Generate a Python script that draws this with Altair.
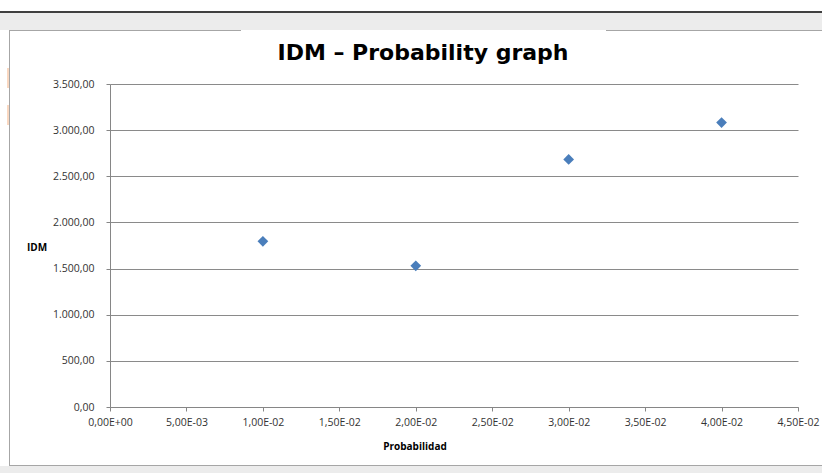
import altair as alt
import pandas as pd

# ---- data ----
probabilidad = [0.01, 0.02, 0.03, 0.04]
idm = [1795, 1530, 2683, 3082]

x_ticks = [0.0, 0.005, 0.01, 0.015, 0.02, 0.025, 0.03, 0.035, 0.04, 0.045]
x_tick_labels = ["0,00E+00", "5,00E-03", "1,00E-02", "1,50E-02", "2,00E-02",
                 "2,50E-02", "3,00E-02", "3,50E-02", "4,00E-02", "4,50E-02"]
y_ticks = [0, 500, 1000, 1500, 2000, 2500, 3000, 3500]
y_tick_labels = ["0,00", "500,00", "1.000,00", "1.500,00", "2.000,00",
                 "2.500,00", "3.000,00", "3.500,00"]

title_text = "IDM – Probability graph"
x_title = "Probabilidad"
y_title = "IDM"

df = pd.DataFrame({"Probabilidad": probabilidad, "IDM": idm})
dummy = pd.DataFrame({"a": [0]})

# layout (pixels)
L, T = 110, 84
W, H = 688, 323

def px(v):
    return alt.value(v - L)

def py(v):
    return alt.value(v - T)

x_expr = "[" + ",".join("'%s'" % s for s in x_tick_labels) + "][round(datum.value/0.005)]"
y_expr = "[" + ",".join("'%s'" % s for s in y_tick_labels) + "][round(datum.value/500)]"

label_font = "Open Sans"

points = alt.Chart(df).mark_point(
    shape="diamond", filled=True, size=115, color="#4a7ebb", opacity=1
).encode(
    x=alt.X("Probabilidad:Q",
            scale=alt.Scale(domain=[0, 0.045], nice=False, zero=False),
            axis=alt.Axis(values=x_ticks, labelExpr=x_expr, title=None, grid=False,
                          tickSize=4, labelPadding=6, domainColor="#868686",
                          tickColor="#868686", labelFont=label_font, labelFontSize=10.5,
                          labelColor="#333333", labelOverlap=False, labelFlush=False)),
    y=alt.Y("IDM:Q",
            scale=alt.Scale(domain=[0, 3500], nice=False),
            axis=alt.Axis(values=y_ticks, labelExpr=y_expr, title=None, grid=True,
                          gridColor="#8a8a8a", tickSize=4, labelPadding=12,
                          domainColor="#868686", tickColor="#868686",
                          labelFont=label_font, labelFontSize=10.5,
                          labelColor="#333333", labelOverlap=False, labelFlush=False)),
)

base = alt.Chart(dummy)

band_top = base.mark_rect(color="#ececec").encode(
    x=px(0), x2=px(822), y=py(13), y2=py(30))
band_bottom = base.mark_rect(color="#ececec").encode(
    x=px(0), x2=px(822), y=py(466), y2=py(473))
black_line = base.mark_rule(color="#000000", strokeWidth=1.5).encode(
    x=px(0), x2=px(822), y=py(12))
border_top_l = base.mark_rule(color="#a6a6a6", strokeWidth=1).encode(
    x=px(9), x2=px(241), y=py(30.5))
border_top_r = base.mark_rule(color="#a6a6a6", strokeWidth=1).encode(
    x=px(606), x2=px(822), y=py(30.5))
border_left = base.mark_rule(color="#a6a6a6", strokeWidth=1).encode(
    x=px(9.5), y=py(30), y2=py(465))
border_bottom = base.mark_rule(color="#a6a6a6", strokeWidth=1).encode(
    x=px(9), x2=px(822), y=py(465.5))
orange1 = base.mark_rule(color="#f4b183", strokeWidth=1).encode(
    x=px(8), y=py(68), y2=py(88))
orange2 = base.mark_rule(color="#f4b183", strokeWidth=1).encode(
    x=px(8), y=py(105), y2=py(125))

title = base.mark_text(
    text=title_text, font="DejaVu Sans", fontWeight="bold", fontSize=22,
    color="#000000", align="center", baseline="alphabetic"
).encode(x=px(423), y=py(60))

xtitle = base.mark_text(
    text=x_title, font=label_font, fontWeight="bold", fontSize=10,
    color="#000000", align="center", baseline="alphabetic"
).encode(x=px(415), y=py(450))

ytitle = base.mark_text(
    text=y_title, font=label_font, fontWeight="bold", fontSize=10,
    color="#000000", align="center", baseline="alphabetic"
).encode(x=px(37), y=py(251))

chart = alt.layer(
    band_top, band_bottom, black_line, border_top_l, border_top_r, border_left,
    border_bottom, orange1, orange2, title, xtitle, ytitle, points
).properties(
    width=W, height=H,
    autosize=alt.AutoSizeParams(type="none"),
    padding={"left": L, "top": T, "right": 822 - L - W, "bottom": 473 - T - H},
    background="#ffffff",
).configure_view(strokeWidth=0)

chart.save("out.html", embed_options={"renderer": "svg", "actions": False})
